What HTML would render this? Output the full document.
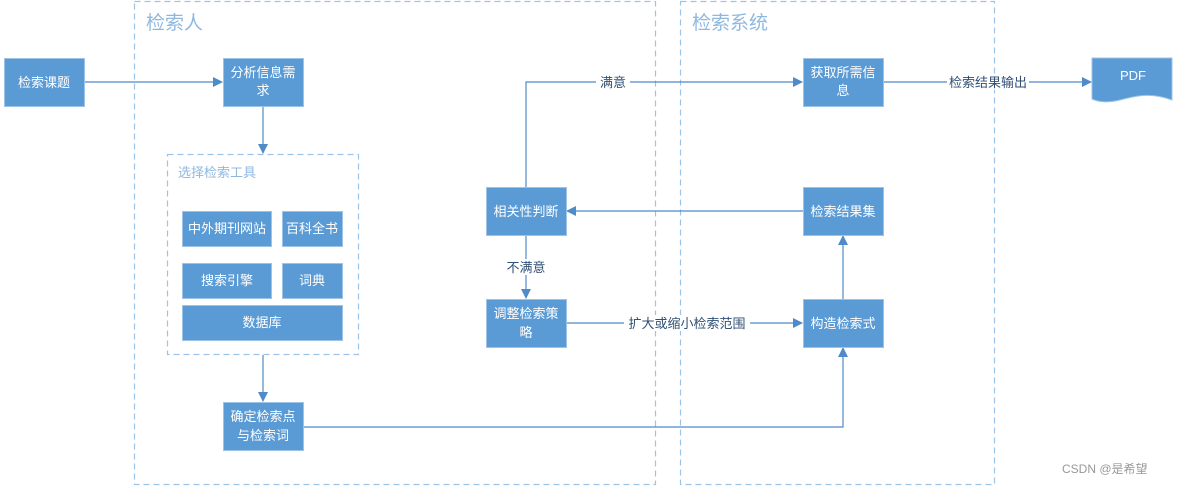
<!DOCTYPE html>
<html><head><meta charset="utf-8"><style>
body{margin:0;background:#fff;}
svg{display:block;font-family:"Liberation Sans","Noto Sans CJK SC",sans-serif;}
.b{fill:#5b9bd5;stroke:#9dc3e6;stroke-width:1}
.t{fill:#fff;font-size:13px;text-anchor:middle}
.l{stroke:#4f8bc9;stroke-width:1.2;fill:none}
.lb{fill:#2f4f75;font-size:13px;text-anchor:middle}
.d{fill:none;stroke:#9dc3e6;stroke-width:1.2;stroke-dasharray:6,4}
</style></head><body>
<svg width="1177" height="486" viewBox="0 0 1177 486">
<defs><marker id="a" markerWidth="10" markerHeight="10" refX="9" refY="5" orient="auto" markerUnits="userSpaceOnUse"><path d="M0,0 L10,5 L0,10z" fill="#4f8bc9"/></marker></defs>
<rect class="d" x="134.5" y="1.5" width="521" height="483"/>
<rect class="d" x="680.5" y="1.5" width="314" height="483"/>
<text x="146" y="29" font-size="19" fill="#8fb8e0">检索人</text>
<text x="692" y="29" font-size="19" fill="#8fb8e0">检索系统</text>
<rect class="d" x="167.5" y="154.5" width="191" height="200"/>
<text x="178" y="177" font-size="13" fill="#8fb8e0">选择检索工具</text>

<!-- connectors -->
<path class="l" d="M84,82 H222" marker-end="url(#a)"/>
<path class="l" d="M263,106 V153" marker-end="url(#a)"/>
<path class="l" d="M263,355 V401" marker-end="url(#a)"/>
<path class="l" d="M303,427 H843 V348" marker-end="url(#a)"/>
<path class="l" d="M843,299 V236" marker-end="url(#a)"/>
<path class="l" d="M803,211 H567" marker-end="url(#a)"/>
<path class="l" d="M526,187 V82 H802" marker-end="url(#a)"/>
<path class="l" d="M526,235 V298" marker-end="url(#a)"/>
<path class="l" d="M566,323 H802" marker-end="url(#a)"/>
<path class="l" d="M883,82 H1091" marker-end="url(#a)"/>
<rect x="596" y="74" width="34" height="16" fill="#fff"/><text class="lb" x="613" y="87">满意</text>
<rect x="503" y="259" width="46" height="16" fill="#fff"/><text class="lb" x="526" y="272">不满意</text>
<rect x="624" y="315" width="126" height="16" fill="#fff"/><text class="lb" x="687" y="328">扩大或缩小检索范围</text>
<rect x="947" y="74" width="82" height="16" fill="#fff"/><text class="lb" x="988" y="87">检索结果输出</text>

<!-- boxes -->
<rect class="b" x="4.5" y="58.5" width="80" height="48"/><text class="t" x="44" y="87">检索课题</text>
<rect class="b" x="223.5" y="58.5" width="80" height="48"/><text class="t" x="263" y="77">分析信息需</text><text class="t" x="263" y="95">求</text>
<rect class="b" x="182.5" y="211.5" width="89" height="35"/><text class="t" x="227" y="233">中外期刊网站</text>
<rect class="b" x="282.5" y="211.5" width="60" height="35"/><text class="t" x="312" y="233">百科全书</text>
<rect class="b" x="182.5" y="263.5" width="89" height="35"/><text class="t" x="227" y="285">搜索引擎</text>
<rect class="b" x="282.5" y="263.5" width="60" height="35"/><text class="t" x="312" y="285">词典</text>
<rect class="b" x="182.5" y="305.5" width="160" height="35"/><text class="t" x="262" y="327">数据库</text>
<rect class="b" x="223.5" y="402.5" width="80" height="48"/><text class="t" x="263" y="421">确定检索点</text><text class="t" x="263" y="440">与检索词</text>
<rect class="b" x="486.5" y="187.5" width="80" height="48"/><text class="t" x="526" y="216">相关性判断</text>
<rect class="b" x="486.5" y="299.5" width="80" height="48"/><text class="t" x="526" y="318">调整检索策</text><text class="t" x="526" y="337">略</text>
<rect class="b" x="803.5" y="58.5" width="80" height="48"/><text class="t" x="843" y="77">获取所需信</text><text class="t" x="843" y="95">息</text>
<rect class="b" x="803.5" y="187.5" width="80" height="48"/><text class="t" x="843" y="216">检索结果集</text>
<rect class="b" x="803.5" y="299.5" width="80" height="48"/><text class="t" x="843" y="328">构造检索式</text>
<path d="M1092,58 H1172 V100 C1150,92 1135,96 1120,100 C1108,103 1098,102 1092,99 Z" fill="#5b9bd5" stroke="#9dc3e6"/>
<text class="t" x="1133" y="80" font-size="11">PDF</text>
<text x="1062" y="473" font-size="12" fill="#999">CSDN @是希望</text>
</svg>
</body></html>
